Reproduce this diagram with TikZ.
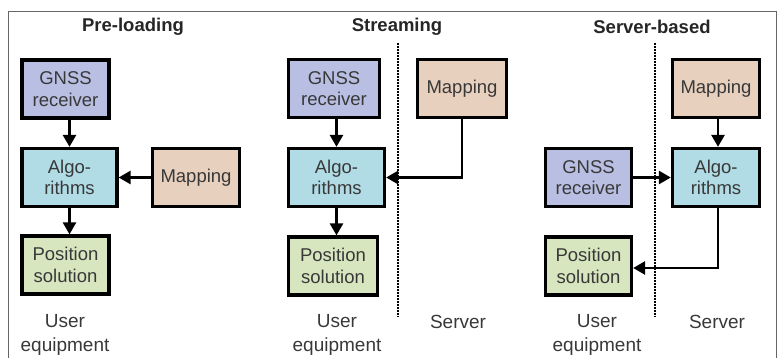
\documentclass[tikz,border=0pt]{standalone}
\usepackage{fontspec}
\setmainfont{Liberation Sans}
\usetikzlibrary{arrows.meta}
\definecolor{gnss}{HTML}{B9BFE2}
\definecolor{algo}{HTML}{B1DCE6}
\definecolor{mapc}{HTML}{E8D0BE}
\definecolor{posc}{HTML}{D7E6BF}
\definecolor{framec}{HTML}{666666}
\tikzset{
  blk/.style={draw=black, line width=3.3pt, inner sep=0pt, align=center,
    minimum height=58pt, font=\fontsize{18.5}{21.5}\selectfont, text=black!78},
  arr/.style={line width=2.7pt, -{Triangle[length=12pt,width=13pt]}},
  ttl/.style={font=\bfseries\fontsize{18.5}{21}\selectfont, text=black!85},
  lbl/.style={align=center, font=\fontsize{19}{24}\selectfont, text=black!78},
  sep/.style={line width=2.6pt, dash pattern=on 1.8pt off 1.2pt},
}
\begin{document}
\begin{tikzpicture}[x=1pt,y=-1pt]
\useasboundingbox (0,0) rectangle (780,358);
\draw[framec, line width=1pt] (8,358) -- (8,12) -- (776,12) -- (776,358);

% Pre-loading
\node[ttl] (t1) at (133,27) {Pre-loading};
\node[blk, fill=gnss, minimum width=87pt] (G1) at (65.5,89) {GNSS\\receiver};
\node[blk, fill=algo, minimum width=95pt] (A1) at (69.5,177.5) {Algo-\\rithms};
\node[blk, fill=posc, minimum width=87pt] (P1) at (65.5,265) {Position\\solution};
\node[blk, fill=mapc, minimum width=87pt] (M1) at (196,177.5) {Mapping};
\node[lbl] (U1) at (65,335) {User\\equipment};
\draw[arr] (A1.north |- G1.south) -- (A1.north);
\draw[arr] (A1.south) -- (A1.south |- P1.north);
\draw[arr] (M1.west) -- (A1.east);

% Streaming
\node[ttl] (t2) at (397,27) {Streaming};
\coordinate (s2a) at (398,43);
\coordinate (s2b) at (398,317);
\draw[sep] (s2a) -- (s2b);
\node[blk, fill=gnss, minimum width=91pt] (G2) at (334,88.5) {GNSS\\receiver};
\node[blk, fill=algo, minimum width=96pt] (A2) at (336.5,177.5) {Algo-\\rithms};
\node[blk, fill=posc, minimum width=89pt] (P2) at (333,266) {Position\\solution};
\node[blk, fill=mapc, minimum width=89pt] (M2) at (462,88.5) {Mapping};
\node[lbl] (U2) at (337,335) {User\\equipment};
\node[lbl, anchor=north] (S2) at (458,312) {Server};
\draw[arr] (A2.north |- G2.south) -- (A2.north);
\draw[arr] (A2.south) -- (A2.south |- P2.north);
\draw[arr] (M2.south) -- (M2.south |- A2.east) -- (A2.east);

% Server-based
\node[ttl] (t3) at (652,27) {Server-based};
\coordinate (s3a) at (655,43);
\coordinate (s3b) at (655,317);
\draw[sep] (s3a) -- (s3b);
\node[blk, fill=mapc, minimum width=87pt] (M3) at (716,88.5) {Mapping};
\node[blk, fill=algo, minimum width=87pt] (A3) at (716,177.5) {Algo-\\rithms};
\node[blk, fill=gnss, minimum width=86pt] (G3) at (588.5,177.5) {GNSS\\receiver};
\node[blk, fill=posc, minimum width=86pt] (P3) at (588.5,266) {Position\\solution};
\node[lbl] (U3) at (597,335) {User\\equipment};
\node[lbl, anchor=north] (S3) at (717,312) {Server};
\coordinate (c3) at (718,268);
\draw[arr] (M3.south -| c3) -- (A3.north -| c3);
\draw[arr] (G3.east) -- (A3.west);
\draw[arr] (A3.south -| c3) -- (c3) -- (c3 -| P3.east);
\end{tikzpicture}
\end{document}
